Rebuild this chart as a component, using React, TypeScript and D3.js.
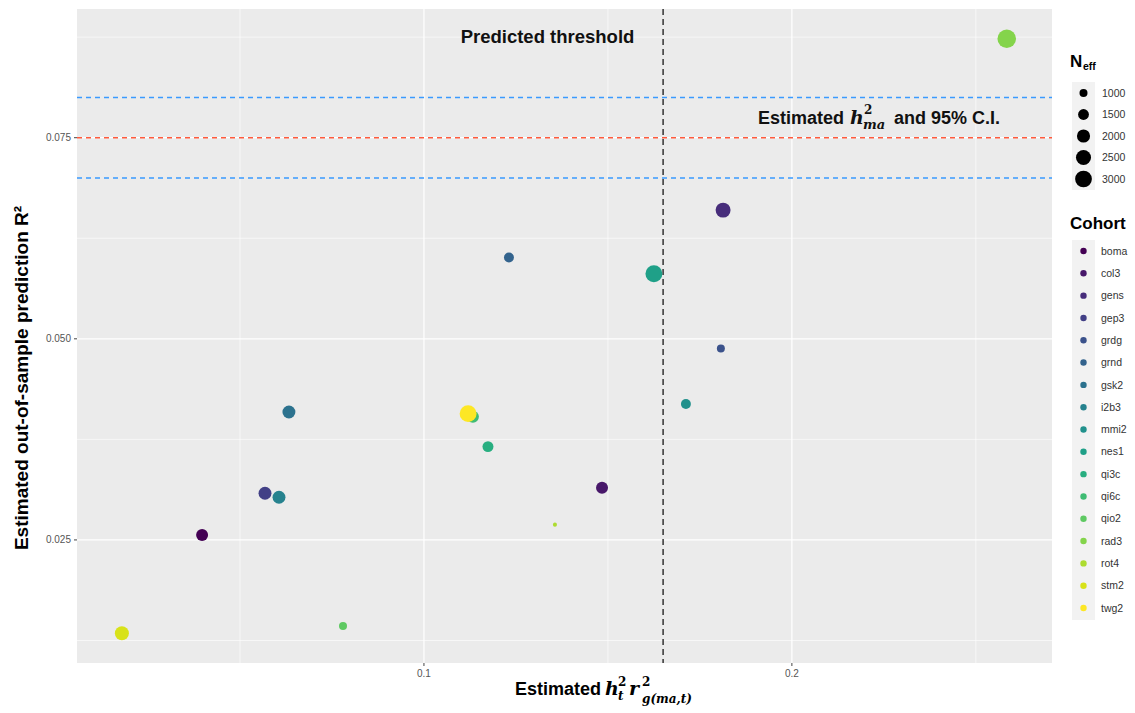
import React from "react";
import * as d3 from "d3";

// cohorts, in legend order
const cohorts = ["boma", "col3", "gens", "gep3", "grdg", "grnd", "gsk2", "i2b3", "mmi2",
  "nes1", "qi3c", "qi6c", "qio2", "rad3", "rot4", "stm2", "twg2"];
// estimated h2_t * rg2
const xValues = [0.0397, 0.1484, 0.1813, 0.0568, 0.1807, 0.1231, 0.0633, 0.0606, 0.1712,
  0.1625, 0.1174, 0.1133, 0.078, 0.2584, 0.1356, 0.0179, 0.112];
// estimated out-of-sample R2
const yValues = [0.0256, 0.0315, 0.066, 0.0308, 0.0488, 0.0601, 0.0409, 0.0303, 0.0419,
  0.0581, 0.0366, 0.0403, 0.0143, 0.0873, 0.0269, 0.0134, 0.0407];
// effective sample size
const nEff = [1740, 1740, 2480, 1960, 1000, 1330, 1960, 1960, 1330,
  3070, 1520, 1740, 1000, 3600, 560, 2220, 3070];

const sizeBreaks = [1000, 1500, 2000, 2500, 3000];
const xTicks = [0.1, 0.2];
const xMinor = [0.05, 0.15, 0.25];
const yTicks = [0.025, 0.05, 0.075];
const yMinor = [0.0125, 0.0375, 0.0625, 0.0875];
const thresholdX = 0.165;
const h2Estimate = 0.075;
const h2CI = [0.07, 0.08];

const W = 1135;
const H = 713;
const panel = { left: 77, right: 1052, top: 9, bottom: 663 };
const sans = "'Liberation Sans', Arial, sans-serif";
const serif = "'DejaVu Serif', serif";

export default function App() {
  const x = d3.scaleLinear().domain([0.0057, 0.2707]).range([panel.left, panel.right]);
  const y = d3.scaleLinear().domain([0.0097, 0.091]).range([panel.bottom, panel.top]);
  // ggplot-like size: area linear in N
  const area = d3.scaleLinear().domain([1000, 3000]).range([16, 70]);
  const r = (n: number) => Math.sqrt(Math.max(area(n), 2));
  const color = (i: number) => d3.interpolateViridis(i / (cohorts.length - 1));

  const points = cohorts.map((c, i) => ({ c, i, x: xValues[i], y: yValues[i], n: nEff[i] }));

  const cohortY = d3.scaleLinear().domain([0, cohorts.length - 1]).range([251, 608]);
  const sizeY = d3.scaleLinear().domain([0, sizeBreaks.length - 1]).range([93, 179]);

  return (
    <svg width={W} height={H} style={{ position: "absolute", left: 0, top: 0, background: "#fff" }}
      fontFamily={sans}>
      <rect x={panel.left} y={panel.top} width={panel.right - panel.left}
        height={panel.bottom - panel.top} fill="#EBEBEB" />
      {xMinor.map(v => (
        <line key={"xm" + v} x1={x(v)} x2={x(v)} y1={panel.top} y2={panel.bottom}
          stroke="#fff" strokeWidth={0.6} />
      ))}
      {yMinor.map(v => (
        <line key={"ym" + v} y1={y(v)} y2={y(v)} x1={panel.left} x2={panel.right}
          stroke="#fff" strokeWidth={0.6} />
      ))}
      {xTicks.map(v => (
        <line key={"xg" + v} x1={x(v)} x2={x(v)} y1={panel.top} y2={panel.bottom}
          stroke="#fff" strokeWidth={1.2} />
      ))}
      {yTicks.map(v => (
        <line key={"yg" + v} y1={y(v)} y2={y(v)} x1={panel.left} x2={panel.right}
          stroke="#fff" strokeWidth={1.2} />
      ))}

      {/* reference lines */}
      {h2CI.map(v => (
        <line key={"ci" + v} x1={panel.left} x2={panel.right} y1={y(v)} y2={y(v)}
          stroke="#3A9AFF" strokeWidth={1.5} strokeDasharray="5,4" />
      ))}
      <line x1={panel.left} x2={panel.right} y1={y(h2Estimate)} y2={y(h2Estimate)}
        stroke="#FF5A3C" strokeWidth={1.5} strokeDasharray="5,4" />
      <line x1={x(thresholdX)} x2={x(thresholdX)} y1={panel.top} y2={panel.bottom}
        stroke="#333" strokeWidth={1.5} strokeDasharray="6,4" />

      {/* points */}
      {points.map(p => (
        <circle key={p.c} cx={x(p.x)} cy={y(p.y)} r={r(p.n)} fill={color(p.i)} />
      ))}

      {/* annotations */}
      <text x={547.5} y={43} textAnchor="middle" fontSize={18.5} fontWeight="bold" fill="#111">
        Predicted threshold
      </text>
      <g fill="#111" fontWeight="bold">
        <text x={758} y={124} fontSize={18}>Estimated</text>
        <text x={850} y={124} fontSize={19} fontFamily={serif} fontStyle="italic">h</text>
        <text x={864} y={114} fontSize={12} fontFamily={serif}>2</text>
        <text x={863} y={129} fontSize={13} fontFamily={serif} fontStyle="italic">ma</text>
        <text x={894} y={124} fontSize={18}>and 95% C.I.</text>
      </g>

      {/* axes */}
      {yTicks.map(v => (
        <g key={"yt" + v}>
          <line x1={panel.left - 3} x2={panel.left} y1={y(v)} y2={y(v)} stroke="#444" />
          <text x={panel.left - 6} y={y(v)} dy="0.35em" textAnchor="end" fontSize={10} fill="#555">
            {d3.format(".3f")(v)}
          </text>
        </g>
      ))}
      {xTicks.map(v => (
        <g key={"xt" + v}>
          <line x1={x(v)} x2={x(v)} y1={panel.bottom} y2={panel.bottom + 3} stroke="#444" />
          <text x={x(v)} y={panel.bottom + 14} textAnchor="middle" fontSize={10} fill="#555">
            {d3.format(".1f")(v)}
          </text>
        </g>
      ))}
      <text transform="translate(28,378) rotate(-90)" textAnchor="middle" fontSize={19}
        fontWeight="bold" fill="#000">
        Estimated out-of-sample prediction R²
      </text>
      <g fill="#000" fontWeight="bold">
        <text x={515} y={695} fontSize={18}>Estimated</text>
        <text x={605} y={695} fontSize={19} fontFamily={serif} fontStyle="italic">h</text>
        <text x={618} y={686} fontSize={12} fontFamily={serif}>2</text>
        <text x={618} y={700} fontSize={12} fontFamily={serif} fontStyle="italic">t</text>
        <text x={629} y={695} fontSize={19} fontFamily={serif} fontStyle="italic">r</text>
        <text x={642} y={686} fontSize={12} fontFamily={serif}>2</text>
        <text x={642} y={703} fontSize={12} fontFamily={serif} fontStyle="italic">g(ma,t)</text>
      </g>

      {/* size legend */}
      <text x={1070} y={67} fontSize={17} fontWeight="bold">N</text>
      <text x={1083} y={70} fontSize={10.5} fontWeight="bold">eff</text>
      <rect x={1072} y={82} width={23} height={108} fill="#F2F2F2" />
      {sizeBreaks.map((b, i) => (
        <g key={"sb" + b}>
          <circle cx={1083.5} cy={sizeY(i)} r={r(b)} fill="#000" />
          <text x={1102} y={sizeY(i)} dy="0.35em" fontSize={10.5} fill="#333">{b}</text>
        </g>
      ))}

      {/* cohort legend */}
      <text x={1070} y={229} fontSize={17} fontWeight="bold">Cohort</text>
      <rect x={1072} y={240} width={23} height={380} fill="#F2F2F2" />
      {cohorts.map((c, i) => (
        <g key={"cl" + c}>
          <circle cx={1083.5} cy={cohortY(i)} r={3.2} fill={color(i)} />
          <text x={1101} y={cohortY(i)} dy="0.35em" fontSize={10.5} fill="#333">{c}</text>
        </g>
      ))}
    </svg>
  );
}
